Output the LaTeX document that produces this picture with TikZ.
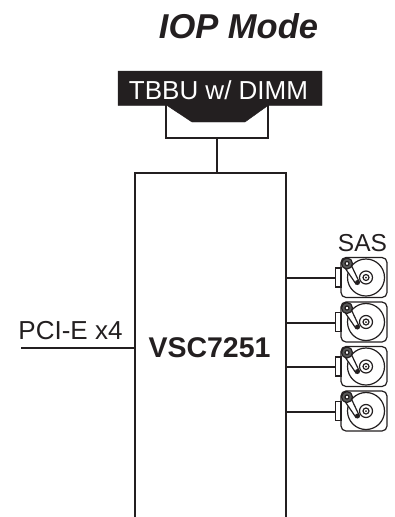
\documentclass[tikz,border=0pt]{standalone}
\usepackage{fontspec}
\setmainfont{Liberation Sans}
\usepackage{tikz}
\usetikzlibrary{positioning}
\definecolor{inkblack}{HTML}{231F20}

\tikzset{
    wire/.style={draw=inkblack, line width=2pt},
    thinline/.style={draw=inkblack, line width=1.2pt},
    label/.style={inner sep=0pt, text=inkblack, font=\fontsize{26}{26}\selectfont},
    disk/.pic={
        \draw[thinline, rounded corners=5pt] (0,-20) rectangle (46,20);
        \draw[thinline, fill=white] (-5.5,-9.5) rectangle (0,9.5);
        \draw[thinline] (25,0) circle (18.5);
        \draw[thinline] (25,0) circle (6.5);
        \draw[thinline] (25,0) circle (3);
        \fill[inkblack] (25,0) circle (1);
        \draw[thinline, fill=white] (3,-11) -- (9,-15) -- (18,4) -- (15,6.5) -- cycle;
        \draw[thinline, fill=gray!70!black] (6,-14) circle (5.5);
        \draw[thinline, fill=white] (6,-14) circle (2);
        \fill[inkblack] (16.5,5) circle (2.5);
    }
}

\begin{document}
\begin{tikzpicture}[x=1pt, y=-1pt]
    \useasboundingbox (0,0) rectangle (394,517);

    \node[label, font=\fontsize{34.5}{34.5}\selectfont\bfseries\itshape, anchor=base] (title) at (238.5,38) {IOP Mode};

    \filldraw[inkblack] (118,71) -- (322,71) -- (322,105.5) -- (268,105.5) -- (245,122) -- (192,122) -- (167,105.5) -- (118,105.5) -- cycle;
    \node[label, text=white, anchor=base] (tbbu) at (218.5,99) {TBBU w/ DIMM};

    \coordinate (slotl) at (166,105);
    \coordinate (slotr) at (268,105);
    \coordinate (stub) at (217,138);
    \coordinate (chiptop) at (217,173);
    \draw[wire] (slotl) |- (stub) -| (slotr);
    \draw[wire] (stub) -- (chiptop);

    \draw[wire] (134.5,517) -- (134.5,173) -- (285.5,173) -- (285.5,517);
    \node[label, font=\fontsize{28.5}{28.5}\selectfont\bfseries, anchor=base] (chip) at (209.5,357) {VSC7251};

    \node[label, anchor=base] (pcie) at (70.5,339) {PCI-E x4};
    \coordinate (pciel) at (21,348);
    \coordinate (pcier) at (134,348);
    \draw[wire] (pciel) -- (pcier);

    \node[label, font=\fontsize{24.5}{24.5}\selectfont, anchor=base] (sas) at (362.5,251) {SAS};

    \foreach \i/\y in {1/278, 2/322.5, 3/367, 4/411.5} {
        \pic at (341,\y-0.5) {disk};
        \coordinate (portl\i) at (286,\y);
        \coordinate (portr\i) at (335.5,\y);
        \draw[wire] (portl\i) -- (portr\i);
    }
\end{tikzpicture}
\end{document}
